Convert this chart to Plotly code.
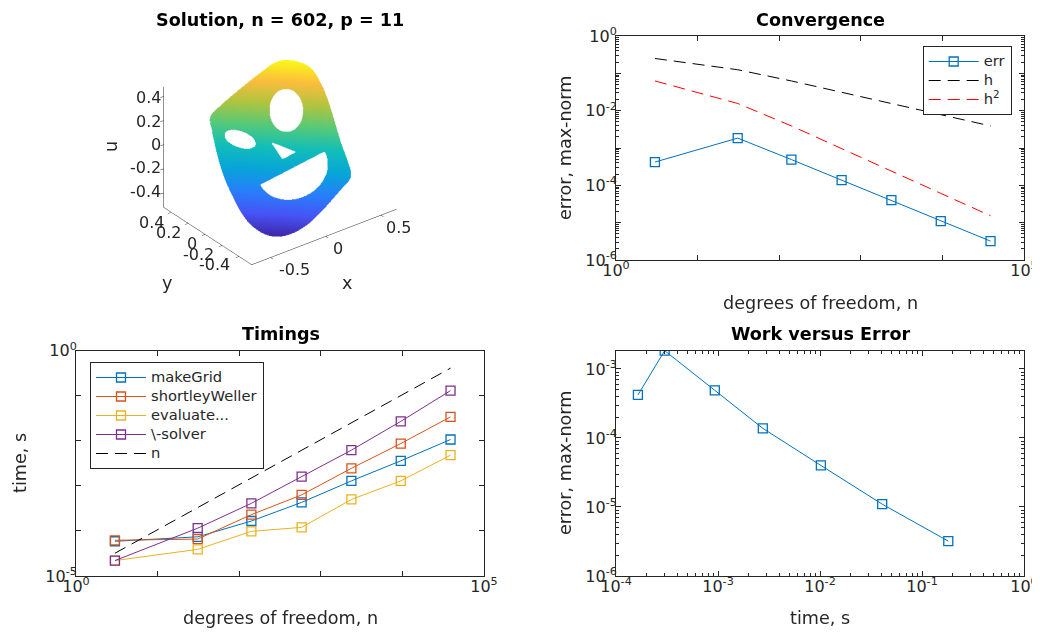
import numpy as np
import plotly.graph_objects as go

FONT = "DejaVu Sans"
AX = "#262626"
PAGE_W, PAGE_H = 1040, 633
OFF = 8                          # the page body margin
W, H = PAGE_W - OFF, PAGE_H - OFF

# ---------------- data ----------------
n_dof = [3, 31, 141, 582, 2371, 9550, 38900]
err = [4.2e-4, 1.84e-3, 4.9e-4, 1.38e-4, 4.0e-5, 1.1e-5, 3.2e-6]
h_vals = [0.25, 0.125, 0.0625, 0.03125, 0.015625, 0.0078125, 0.00390625]
h_sq = [0.0625, 0.0156, 0.0039, 9.8e-4, 2.44e-4, 6.1e-5, 1.53e-5]

t_makegrid = [5.9e-5, 7.4e-5, 1.66e-4, 4.3e-4, 1.29e-3, 3.6e-3, 1.07e-2]
t_shortley = [6.2e-5, 6.6e-5, 2.3e-4, 6.3e-4, 2.45e-3, 8.7e-3, 3.4e-2]
t_evaluate = [2.2e-5, 3.9e-5, 9.8e-5, 1.2e-4, 5.0e-4, 1.29e-3, 4.8e-3]
t_solver = [2.2e-5, 1.15e-4, 4.1e-4, 1.6e-3, 6.2e-3, 2.7e-2, 0.13]
t_nline = [3.2e-5, 3.3e-4, 1.5e-3, 6.2e-3, 2.5e-2, 0.10, 0.41]
t_total = [1.64e-4, 3.0e-4, 9.3e-4, 2.75e-3, 1.02e-2, 4.07e-2, 0.181]

timing_names = ["makeGrid", "shortleyWeller", "evaluate...", "\\-solver"]
timing_colors = ["#0072BD", "#D95319", "#EDB120", "#7E2F8E"]

# 3D axis ticks
x3_ticks = [-0.5, 0, 0.5]
y3_ticks = [-0.4, -0.2, 0, 0.2, 0.4]
z3_ticks = [-0.4, -0.2, 0, 0.2, 0.4]
x3_range = [-0.67, 0.64]
y3_range = [-0.55, 0.49]
z3_range = [-0.52, 0.48]

# face-shaped domain, in face coordinates (p right, q up)
face_p = [0.067, 0.2, 0.317, 0.4, 0.467, 0.527, 0.583, 0.64, 0.68, 0.673, 0.617, 0.517,
          0.4, 0.267, 0.133, 0.0, -0.1, -0.2, -0.3, -0.383, -0.45, -0.517, -0.573, -0.617,
          -0.65, -0.667, -0.647, -0.593, -0.467, -0.3, -0.167, -0.05]
face_q = [0.87, 0.847, 0.78, 0.647, 0.48, 0.28, 0.08, -0.087, -0.22, -0.303, -0.37, -0.487,
          -0.62, -0.747, -0.83, -0.87, -0.863, -0.82, -0.737, -0.62, -0.487, -0.337, -0.17, 0.013,
          0.18, 0.28, 0.34, 0.393, 0.507, 0.647, 0.753, 0.837]
eye_right = [0.067, 0.37, 0.157, 0.207, 0.0]      # centre p, q, semi-axes, angle (deg)
eye_left = [-0.377, 0.087, 0.152, 0.075, -21.0]
nose_p = [-0.073, 0.15, 0.027]
nose_q = [0.053, -0.037, -0.103]
mouth = [0.122, -0.198, 0.345, 0.29, 27.9]        # chord centre, half chord, depth, chord angle
# orientation of the face in the (x, y) plane and the solution plane u(x, y)
map_x = [0.561, 0.280, -0.019]
map_y = [-0.505, 0.376, -0.031]
u_coef = [0.862, 0.891, 0.024]

# ---------------- surface construction ----------------
def catmull(px, py, sub=12):
    Pt = np.column_stack([px, py])
    n = len(Pt)
    out = []
    for i in range(n):
        p0, p1, p2, p3 = Pt[(i - 1) % n], Pt[i], Pt[(i + 1) % n], Pt[(i + 2) % n]
        for t in np.linspace(0, 1, sub, endpoint=False):
            t2, t3 = t * t, t * t * t
            out.append(0.5 * ((2 * p1) + (-p0 + p2) * t + (2 * p0 - 5 * p1 + 4 * p2 - p3) * t2
                              + (-p0 + 3 * p1 - 3 * p2 + p3) * t3))
    out = np.array(out)
    return out[:, 0], out[:, 1]


def inside_poly(px, py, vx, vy):
    res = np.zeros(px.shape, bool)
    n = len(vx)
    j = n - 1
    for i in range(n):
        xi, yi, xj, yj = vx[i], vy[i], vx[j], vy[j]
        if yi != yj:
            cond = ((yi > py) != (yj > py)) & (px < (xj - xi) * (py - yi) / (yj - yi) + xi)
            res ^= cond
        j = i
    return res


def in_ellipse(P, Q, e):
    cp, cq, a, b, ang = e
    th = np.deg2rad(ang)
    dp, dq = P - cp, Q - cq
    s = dp * np.cos(th) + dq * np.sin(th)
    t = -dp * np.sin(th) + dq * np.cos(th)
    return (s / a) ** 2 + (t / b) ** 2 <= 1.0


pg = np.linspace(-0.72, 0.72, 241)
qg = np.linspace(-0.92, 0.92, 307)
P, Q = np.meshgrid(pg, qg)
ox, oy = catmull(face_p, face_q)
mask = inside_poly(P, Q, ox, oy)
mask &= ~in_ellipse(P, Q, eye_right)
mask &= ~in_ellipse(P, Q, eye_left)
mask &= ~inside_poly(P, Q, np.array(nose_p), np.array(nose_q))
mc_p, mc_q, ma, mb, mang = mouth
th = np.deg2rad(mang)
dp, dq = P - mc_p, Q - mc_q
s_m = dp * np.cos(th) + dq * np.sin(th)
t_m = -(-dp * np.sin(th) + dq * np.cos(th))
mask &= ~(((s_m / ma) ** 2 + (t_m / mb) ** 2 <= 1.0) & (t_m >= 0))

SX = map_x[0] * P + map_x[1] * Q + map_x[2]
SY = map_y[0] * P + map_y[1] * Q + map_y[2]
SU = u_coef[0] * SX + u_coef[1] * SY + u_coef[2]
SZ = np.where(mask, SU, np.nan)
umin, umax = np.nanmin(SZ), np.nanmax(SZ)

parula = [
    [0.000, "rgb(62,38,168)"],
    [0.125, "rgb(71,84,246)"],
    [0.250, "rgb(39,128,250)"],
    [0.375, "rgb(7,165,216)"],
    [0.500, "rgb(18,190,185)"],
    [0.625, "rgb(84,201,122)"],
    [0.750, "rgb(175,196,63)"],
    [0.875, "rgb(251,189,61)"],
    [1.000, "rgb(249,251,21)"],
]

fig = go.Figure()

fig.add_trace(go.Surface(
    x=SX, y=SY, z=SZ, surfacecolor=SZ, colorscale=parula, cmin=umin, cmax=umax,
    showscale=False, hoverinfo="skip", scene="scene",
    lighting=dict(ambient=1.0, diffuse=0.0, specular=0.0, roughness=1.0, fresnel=0.0),
))

# ---------------- 2D traces ----------------
DASH = "12px,7px"
LEG_TXT = "<span style='font-size:14.7px'>%s</span>"
mk = lambda c: dict(symbol="square-open", size=9, color=c, line=dict(width=1.3, color=c))

fig.add_trace(go.Scatter(x=n_dof, y=err, name=LEG_TXT % "err", mode="lines+markers",
                         line=dict(color="#0072BD", width=1), marker=mk("#0072BD"),
                         xaxis="x", yaxis="y", legend="legend"))
fig.add_trace(go.Scatter(x=n_dof, y=h_vals, name=LEG_TXT % "h", mode="lines",
                         line=dict(color="black", width=1, dash=DASH),
                         xaxis="x", yaxis="y", legend="legend"))
fig.add_trace(go.Scatter(x=n_dof, y=h_sq, name=LEG_TXT % "h<sup>2</sup>", mode="lines",
                         line=dict(color="#FF0000", width=1, dash=DASH),
                         xaxis="x", yaxis="y", legend="legend"))

for nm, col, vals in zip(timing_names, timing_colors, [t_makegrid, t_shortley, t_evaluate, t_solver]):
    fig.add_trace(go.Scatter(x=n_dof, y=vals, name=LEG_TXT % nm, mode="lines+markers",
                             line=dict(color=col, width=1), marker=mk(col),
                             xaxis="x2", yaxis="y2", legend="legend2"))
fig.add_trace(go.Scatter(x=n_dof, y=t_nline, name=LEG_TXT % "n", mode="lines",
                         line=dict(color="black", width=1, dash=DASH),
                         xaxis="x2", yaxis="y2", legend="legend2"))

fig.add_trace(go.Scatter(x=t_total, y=err, mode="lines+markers", showlegend=False,
                         line=dict(color="#0072BD", width=1), marker=mk("#0072BD"),
                         xaxis="x3", yaxis="y3"))


def sup(k):
    return "10<sup>%d</sup>" % k


def minors(lo, hi):
    return [m * 10.0 ** k for k in range(lo, hi) for m in range(2, 10)]


def logax(dom, rng, tv, tt, minor=None, anchor=None, standoff=0):
    d = dict(type="log", domain=dom, range=rng, tickvals=tv, ticktext=tt,
             ticks="inside", ticklen=5, tickcolor=AX, tickwidth=1,
             showline=True, linecolor=AX, linewidth=1, mirror="allticks",
             showgrid=False, zeroline=False, anchor=anchor, automargin=False,
             ticklabelstandoff=standoff,
             tickfont=dict(family=FONT, size=16, color=AX))
    if minor is not None:
        d["minor"] = dict(tickvals=minor, ticks="inside", ticklen=3, tickcolor=AX, showgrid=False)
    return d


def fx(px):          # page pixel -> paper x
    return (px - OFF) / W


def fy(py):          # page pixel -> paper y
    return 1 - (py - OFF) / H


def px_x(a, b):
    return [fx(a), fx(b)]


def px_y(top, bot):
    return [fy(bot), fy(top)]


dec5 = [10.0 ** k for k in range(0, 6)]
SX_OFF, SY_OFF = -4, -5
fig.update_layout(
    template="none",
    xaxis=logax(px_x(616, 1024), [0, 5], dec5, [sup(0), "", "", "", "", sup(5)], anchor="y", standoff=SX_OFF),
    yaxis=logax(px_y(36, 260), [-6, 0], [10.0 ** k for k in range(-6, 1)],
                [sup(-6), "", sup(-4), "", sup(-2), "", sup(0)], minor=minors(-6, 0), anchor="x",
                standoff=SY_OFF),
    xaxis2=logax(px_x(76, 484), [0, 5], dec5, [sup(0), "", "", "", "", sup(5)], anchor="y2", standoff=SX_OFF),
    yaxis2=logax(px_y(350.7, 576), [-5, 0], [10.0 ** k for k in range(-5, 1)],
                 [sup(-5), "", "", "", "", sup(0)], anchor="x2", standoff=SY_OFF),
    xaxis3=logax(px_x(616, 1024), [-4, 0], [10.0 ** k for k in range(-4, 1)],
                 [sup(k) for k in range(-4, 1)], minor=minors(-4, 0), anchor="y3", standoff=SX_OFF),
    yaxis3=logax(px_y(350.7, 576), [-6, float(np.log10(max(err)))], [10.0 ** k for k in range(-6, -2)],
                 [sup(k) for k in range(-6, -2)], minor=minors(-6, -2), anchor="x3", standoff=SY_OFF),
)

# ---------------- 3D scene ----------------
ax3 = dict(showbackground=False, showgrid=False, zeroline=False, showline=True, linecolor=AX,
           linewidth=1, ticks="outside", tickcolor=AX, ticklen=4, showticklabels=False,
           showspikes=False, title=dict(text=""))
AZ, EL = np.deg2rad(-37.5), np.deg2rad(30.0)
d = np.array([np.cos(EL) * np.sin(AZ), -np.cos(EL) * np.cos(AZ), np.sin(EL)])
EYE = 2.06
cx, cy = 280.4, 147.8          # page pixel centre of the 3D box
sw, sh = 320, 276
ASP = 0.96 * 290 / sh
fig.update_layout(scene=dict(
    domain=dict(x=[fx(cx - sw / 2), fx(cx + sw / 2)], y=[fy(cy + sh / 2), fy(cy - sh / 2)]),
    xaxis=dict(ax3, range=x3_range, tickvals=x3_ticks),
    yaxis=dict(ax3, range=y3_range, tickvals=y3_ticks),
    zaxis=dict(ax3, range=z3_range, tickvals=z3_ticks),
    aspectmode="manual",
    aspectratio=dict(x=ASP * (x3_range[1] - x3_range[0]), y=ASP * (y3_range[1] - y3_range[0]),
                     z=ASP * (z3_range[1] - z3_range[0])),
    camera=dict(eye=dict(x=EYE * d[0], y=EYE * d[1], z=EYE * d[2]), center=dict(x=0, y=0, z=0),
                up=dict(x=0, y=0, z=1), projection=dict(type="orthographic")),
))

# orthographic projection of the view, used to place the 3D tick labels horizontally
SCALE = 135.0
box_c = np.array([sum(x3_range) / 2, sum(y3_range) / 2, sum(z3_range) / 2])
right_v = np.array([np.cos(AZ), np.sin(AZ), 0.0])
up_v = np.array([-np.sin(EL) * np.sin(AZ), np.sin(EL) * np.cos(AZ), np.cos(EL)])


def proj(x, y, z):
    v = np.array([x, y, z]) - box_c
    return cx + SCALE * v.dot(right_v), cy - SCALE * v.dot(up_v)


def ann(text, x, y, size=17.6, bold=False, angle=0, color=AX, xanchor="center"):
    fig.add_annotation(text="<b>%s</b>" % text if bold else text, x=fx(x), y=fy(y),
                       xref="paper", yref="paper", showarrow=False, textangle=angle,
                       xanchor=xanchor, yanchor="middle",
                       font=dict(family=FONT, size=size, color=color))


def fmt(v):
    return "0" if v == 0 else ("%g" % v)


for v in x3_ticks:
    X, Y = proj(v, y3_range[0], z3_range[0])
    ann(fmt(v), X + 6, Y + 15, size=16, xanchor="left")
for v in y3_ticks:
    X, Y = proj(x3_range[0], v, z3_range[0])
    ann(fmt(v), X - 8.5, Y + 12, size=16, xanchor="right")
for v in z3_ticks:
    X, Y = proj(x3_range[0], y3_range[1], v)
    ann(fmt(v), X - 5, Y, size=16, xanchor="right")

ann("Solution, n = 602, p = 11", 280, 20, bold=True, color="black")
ann("Convergence", 820, 20, bold=True, color="black")
ann("Timings", 281, 334, bold=True, color="black")
ann("Work versus Error", 820, 334, bold=True, color="black")
ann("degrees of freedom, n", 820, 303)
ann("degrees of freedom, n", 280, 618)
ann("time, s", 820, 618)
ann("error, max-norm", 565, 148, angle=-90)
ann("error, max-norm", 565, 463, angle=-90)
ann("time, s", 20, 463, angle=-90)
ann("u", 111, 147, angle=-90)
ann("x", 347, 283)
ann("y", 167, 283)

leg = dict(bgcolor="white", bordercolor=AX, borderwidth=1, xanchor="left", yanchor="top",
           font=dict(family=FONT, size=12.3, color=AX), itemwidth=50, tracegroupgap=0)
fig.update_layout(
    legend=dict(leg, x=fx(922.7), y=fy(46)),
    legend2=dict(leg, x=fx(90), y=fy(362)),
    width=W, height=H, margin=dict(l=0, r=0, t=0, b=0, pad=0),
    paper_bgcolor="white", plot_bgcolor="white", showlegend=True,
    font=dict(family=FONT, color=AX),
)

fig.write_html("out.html")
